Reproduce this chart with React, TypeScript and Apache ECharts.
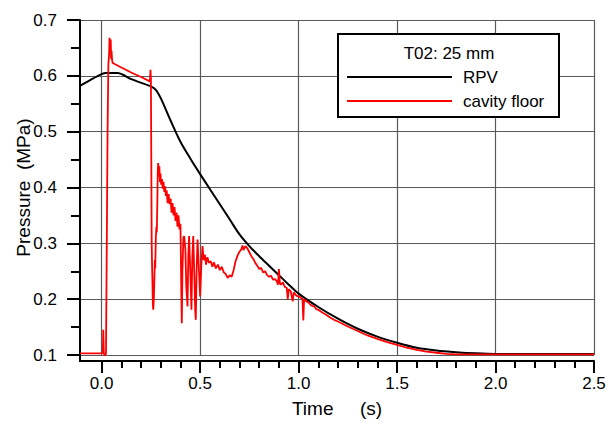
import React, { useEffect, useRef } from "react";
import * as echarts from "echarts";

const xTickLabels = ["0.0", "0.5", "1.0", "1.5", "2.0", "2.5"];
const xMajorTicks = [0, 0.5, 1.0, 1.5, 2.0, 2.5];
const xMinorTicks = [0.1, 0.2, 0.3, 0.4, 0.6, 0.7, 0.8, 0.9, 1.1, 1.2, 1.3, 1.4, 1.6, 1.7, 1.8, 1.9, 2.1, 2.2, 2.3, 2.4];
const yTickLabels = ["0.1", "0.2", "0.3", "0.4", "0.5", "0.6", "0.7"];
const legendTitle = "T02: 25 mm";
const seriesNames = ["RPV", "cavity floor"];

const rpvT = [-0.11, -0.05, 0.0, 0.02, 0.08, 0.15, 0.25, 0.275, 0.3, 0.35, 0.4, 0.45, 0.5, 0.55, 0.6, 0.65, 0.7, 0.75, 0.8, 0.85, 0.9, 0.95, 1.0, 1.1, 1.2, 1.3, 1.4, 1.5, 1.6, 1.7, 1.8, 1.9, 2.0, 2.2, 2.5];
const rpvP = [0.582, 0.594, 0.603, 0.605, 0.605, 0.594, 0.581, 0.575, 0.56, 0.52, 0.482, 0.452, 0.424, 0.397, 0.37, 0.343, 0.316, 0.295, 0.277, 0.26, 0.243, 0.226, 0.21, 0.186, 0.165, 0.147, 0.133, 0.122, 0.113, 0.108, 0.105, 0.103, 0.102, 0.102, 0.102];

const floorT = [-0.11, -0.05, 0.0, 0.006, 0.008, 0.011, 0.015, 0.02, 0.022, 0.026, 0.03, 0.034, 0.038, 0.04, 0.043, 0.046, 0.048, 0.05, 0.053, 0.056, 0.1, 0.15, 0.2, 0.245, 0.248, 0.25, 0.252, 0.254, 0.256, 0.258, 0.26, 0.262, 0.265, 0.268, 0.27, 0.272, 0.275, 0.278, 0.28, 0.283, 0.285, 0.287, 0.29, 0.293, 0.296, 0.299, 0.302, 0.306, 0.31, 0.314, 0.318, 0.322, 0.326, 0.33, 0.335, 0.34, 0.345, 0.35, 0.355, 0.36, 0.365, 0.37, 0.375, 0.38, 0.385, 0.39, 0.395, 0.4, 0.405, 0.407, 0.41, 0.415, 0.419, 0.425, 0.43, 0.436, 0.44, 0.444, 0.45, 0.456, 0.46, 0.465, 0.47, 0.475, 0.478, 0.482, 0.487, 0.493, 0.5, 0.506, 0.512, 0.518, 0.524, 0.53, 0.537, 0.545, 0.554, 0.562, 0.57, 0.58, 0.59, 0.6, 0.61, 0.62, 0.63, 0.64, 0.65, 0.66, 0.67, 0.68, 0.69, 0.7, 0.71, 0.715, 0.72, 0.73, 0.74, 0.75, 0.76, 0.77, 0.78, 0.79, 0.8, 0.81, 0.82, 0.83, 0.84, 0.85, 0.86, 0.87, 0.88, 0.89, 0.895, 0.9, 0.905, 0.91, 0.92, 0.93, 0.94, 0.945, 0.95, 0.96, 0.97, 0.975, 0.98, 0.99, 1.0, 1.01, 1.02, 1.024, 1.028, 1.04, 1.05, 1.06, 1.07, 1.08, 1.09, 1.1, 1.12, 1.14, 1.16, 1.18, 1.2, 1.25, 1.3, 1.35, 1.4, 1.45, 1.5, 1.55, 1.6, 1.65, 1.7, 1.75, 1.8, 1.9, 2.0, 2.2, 2.5];
const floorP = [0.103, 0.103, 0.103, 0.104, 0.145, 0.103, 0.098, 0.1, 0.103, 0.3, 0.5, 0.62, 0.64, 0.668, 0.655, 0.665, 0.63, 0.645, 0.628, 0.623, 0.615, 0.606, 0.598, 0.59, 0.611, 0.595, 0.45, 0.3, 0.26, 0.23, 0.19, 0.181, 0.2, 0.24, 0.27, 0.255, 0.31, 0.33, 0.32, 0.38, 0.43, 0.444, 0.42, 0.438, 0.41, 0.425, 0.405, 0.415, 0.398, 0.41, 0.392, 0.402, 0.385, 0.395, 0.372, 0.388, 0.37, 0.38, 0.355, 0.372, 0.35, 0.365, 0.34, 0.355, 0.33, 0.35, 0.325, 0.335, 0.2, 0.157, 0.25, 0.31, 0.313, 0.29, 0.22, 0.187, 0.28, 0.313, 0.25, 0.181, 0.27, 0.313, 0.25, 0.18, 0.163, 0.25, 0.307, 0.26, 0.205, 0.26, 0.295, 0.27, 0.28, 0.262, 0.275, 0.265, 0.268, 0.258, 0.266, 0.255, 0.262, 0.252, 0.258, 0.248, 0.245, 0.238, 0.243, 0.24, 0.252, 0.268, 0.278, 0.285, 0.29, 0.296, 0.288, 0.295, 0.291, 0.284, 0.277, 0.272, 0.265, 0.26, 0.254, 0.256, 0.248, 0.25, 0.243, 0.24, 0.242, 0.235, 0.236, 0.232, 0.226, 0.254, 0.228, 0.226, 0.23, 0.222, 0.22, 0.2, 0.218, 0.214, 0.196, 0.212, 0.21, 0.206, 0.205, 0.203, 0.2, 0.162, 0.2, 0.196, 0.194, 0.19, 0.188, 0.187, 0.182, 0.181, 0.176, 0.172, 0.167, 0.163, 0.16, 0.151, 0.143, 0.135, 0.129, 0.123, 0.118, 0.113, 0.109, 0.106, 0.104, 0.102, 0.101, 0.101, 0.101, 0.101, 0.101];

const FONT = 'Arial, "Liberation Sans", sans-serif';

export default function App() {
  const ref = useRef<HTMLDivElement>(null);
  useEffect(() => {
    if (!ref.current) return;
    const chart = echarts.init(ref.current, null, { renderer: "svg" });
    const rpvData = rpvT.map((t, i) => [t, rpvP[i]]);
    const floorData = floorT.map((t, i) => [t, floorP[i]]);
    const gridColor = "#5a5a5a";
    const xMin = -0.11;
    const xMax = 2.5;
    chart.setOption({
      animation: false,
      backgroundColor: "#fff",
      textStyle: { fontFamily: FONT, color: "#000" },
      grid: { left: 80, right: 18, top: 20, bottom: 68, containLabel: false },
      xAxis: [
        {
          type: "value",
          min: xMin,
          max: xMax,
          position: "bottom",
          offset: 6,
          name: "Time     (s)",
          nameLocation: "middle",
          nameGap: 38,
          nameMoveOverlap: false,
          nameTextStyle: { fontSize: 19, color: "#000", fontFamily: FONT },
          axisLine: { show: true, onZero: false, lineStyle: { color: "#000", width: 2 } },
          axisTick: {
            show: true,
            inside: false,
            length: 12,
            customValues: xMajorTicks,
            lineStyle: { color: "#000", width: 2 },
          },
          axisLabel: {
            show: true,
            margin: 14,
            fontSize: 17,
            color: "#000",
            fontFamily: FONT,
            customValues: xMajorTicks,
            formatter: (v: number) => {
              const idx = xMajorTicks.findIndex((m) => Math.abs(m - v) < 1e-6);
              return idx >= 0 ? xTickLabels[idx] : "";
            },
          },
          splitLine: { show: false },
        },
        {
          type: "value",
          min: xMin,
          max: xMax,
          position: "bottom",
          offset: 6,
          axisLine: { show: false, onZero: false },
          axisTick: {
            show: true,
            inside: false,
            length: 7,
            customValues: xMinorTicks,
            lineStyle: { color: "#000", width: 2 },
          },
          axisLabel: { show: false },
          splitLine: { show: false },
        },
      ],
      yAxis: {
        type: "value",
        min: 0.1,
        max: 0.7,
        interval: 0.1,
        name: "Pressure  (MPa)",
        nameLocation: "middle",
        nameGap: 47,
        nameMoveOverlap: false,
        nameTextStyle: { fontSize: 19, color: "#000", fontFamily: FONT },
        axisLine: { show: true, onZero: false, lineStyle: { color: "#000", width: 2 } },
        axisTick: { show: true, inside: false, length: 13, lineStyle: { color: "#000", width: 2 } },
        minorTick: { show: true, splitNumber: 2, length: 9, lineStyle: { color: "#000", width: 2 } },
        axisLabel: {
          show: true,
          margin: 23,
          fontSize: 17,
          color: "#000",
          fontFamily: FONT,
          formatter: (v: number) => {
            const s = v.toFixed(1);
            return yTickLabels.indexOf(s) >= 0 ? s : "";
          },
        },
        splitLine: { show: true, lineStyle: { color: gridColor, width: 1.2 } },
      },
      legend: {
        show: true,
        data: seriesNames,
        orient: "vertical",
        left: 347,
        top: 68,
        padding: 0,
        icon: "rect",
        itemWidth: 105,
        itemHeight: 2,
        itemGap: 6,
        z: 20,
        textStyle: { fontSize: 17, lineHeight: 18, height: 18, color: "#000", fontFamily: FONT, padding: [0, 0, 0, 6] },
      },
      graphic: [
        {
          type: "rect",
          z: 10,
          shape: { x: 338, y: 34, width: 221, height: 83 },
          style: { fill: "#fff", stroke: "#000", lineWidth: 2 },
        },
        {
          type: "text",
          z: 21,
          x: 449,
          y: 53,
          style: {
            text: legendTitle,
            fontSize: 17,
            fontFamily: FONT,
            fill: "#000",
            textAlign: "center",
            textVerticalAlign: "middle",
          },
        },
        {
          type: "line",
          z: 10,
          shape: { x1: 80, y1: 354, x2: 80, y2: 362 },
          style: { stroke: "#000", lineWidth: 2 },
        },
      ],
      series: [
        {
          name: seriesNames[0],
          type: "line",
          data: rpvData,
          showSymbol: false,
          symbol: "none",
          smooth: 0.3,
          z: 3,
          lineStyle: { color: "#000", width: 2 },
          itemStyle: { color: "#000" },
          markLine: {
            silent: true,
            symbol: "none",
            label: { show: false },
            z: 1,
            lineStyle: { color: gridColor, width: 1.2, type: "solid" },
            data: xMajorTicks.map((v) => ({ xAxis: v })),
          },
        },
        {
          name: seriesNames[1],
          type: "line",
          data: floorData,
          showSymbol: false,
          symbol: "none",
          smooth: false,
          z: 4,
          lineStyle: { color: "#ff0000", width: 1.8 },
          itemStyle: { color: "#ff0000" },
        },
      ],
    });
    return () => chart.dispose();
  }, []);
  return (
    <div
      ref={ref}
      style={{ position: "absolute", left: 0, top: 0, width: 612, height: 423 }}
    />
  );
}
